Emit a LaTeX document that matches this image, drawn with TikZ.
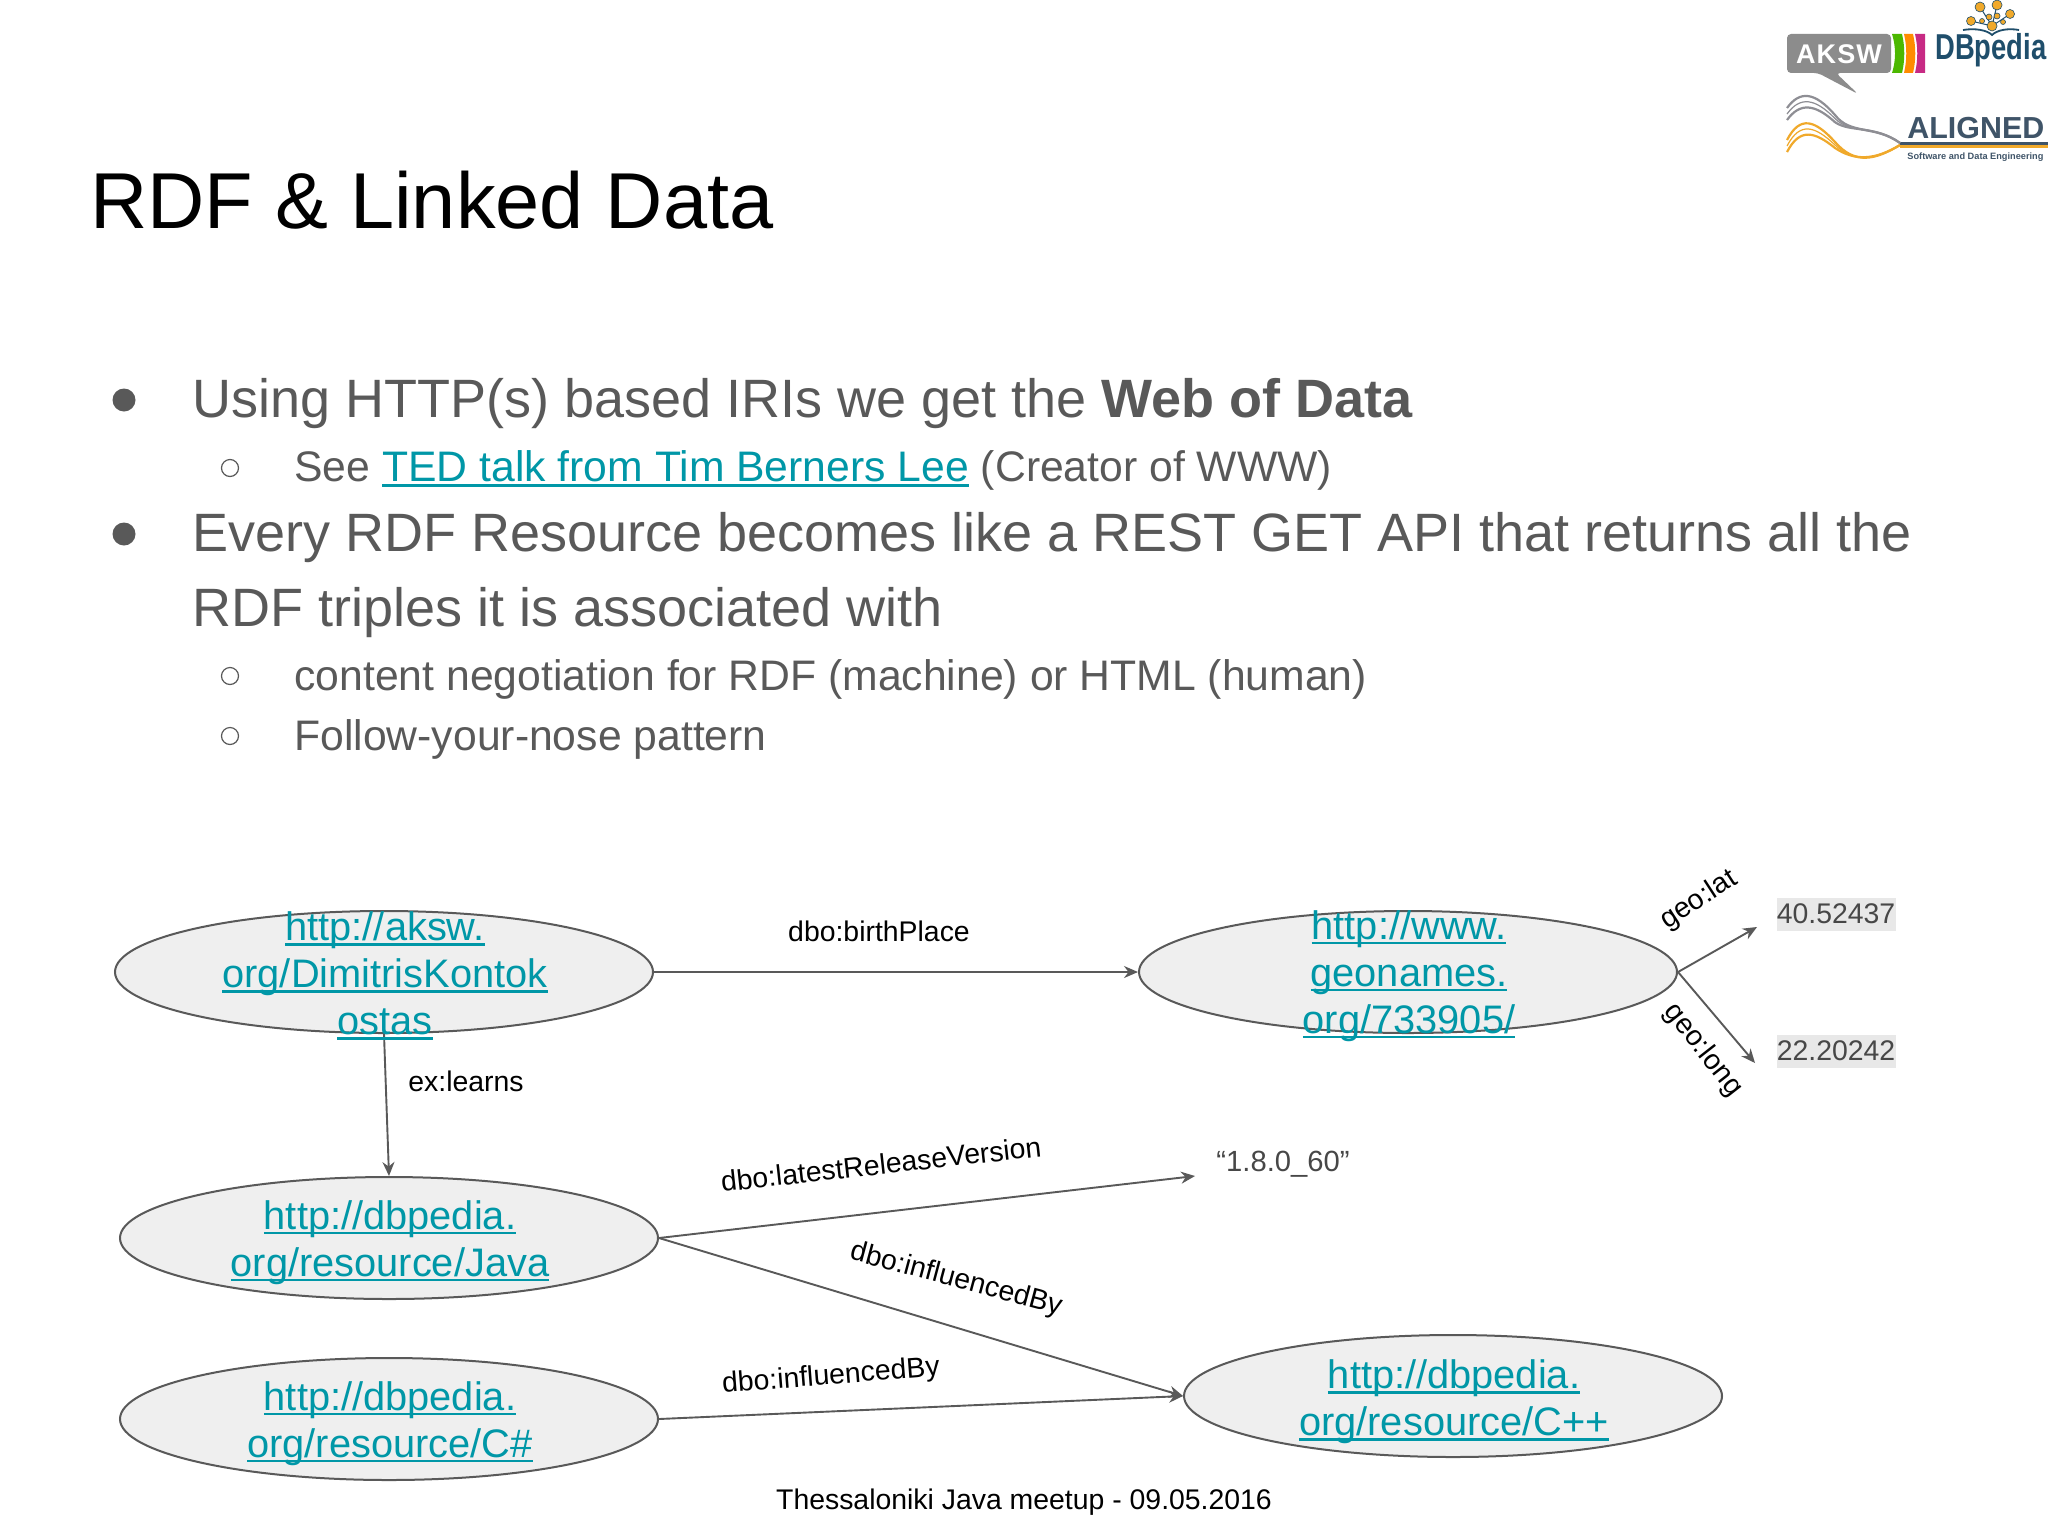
\documentclass[tikz,border=0pt]{standalone}
\usepackage{fontspec}
\setmainfont{Liberation Sans}
\usetikzlibrary{arrows.meta,shapes.geometric}
\definecolor{bodygray}{HTML}{595959}
\definecolor{linkteal}{HTML}{0097A7}
\definecolor{fillgray}{HTML}{EFEFEF}
\definecolor{valgray}{HTML}{E8E8E8}
\definecolor{edgegray}{HTML}{595959}
\definecolor{dbblue}{HTML}{1F4E6B}
\definecolor{dbgold}{HTML}{F0A92B}
\definecolor{akswgray}{HTML}{8C8C8C}
\definecolor{algblue}{HTML}{3F5468}
\definecolor{algorange}{HTML}{F0A92B}
\definecolor{alggray}{HTML}{8E8E94}
\newcommand{\lnkul}[1]{\setbox0\hbox{#1}\rlap{\copy0}\raisebox{-0.13em}{\rule{\wd0}{0.065em}}}
\tikzset{
  x=0.5pt,y=-0.5pt,
  res/.style={ellipse,draw=edgegray,line width=1pt,fill=fillgray,minimum width=269pt,minimum height=61pt,inner sep=0pt},
  restext/.style={text=linkteal,align=center,inner sep=0pt,font=\fontsize{19.9}{23.5}\selectfont},
  lab/.style={text=black,inner sep=0pt,font=\fontsize{14.2}{17}\selectfont},
  val/.style={fill=valgray,text=bodygray!80!black,inner sep=0pt,minimum width=59.5pt,minimum height=16.5pt,font=\fontsize{14.2}{17}\selectfont},
  lit/.style={text=bodygray!80!black,inner sep=0pt,font=\fontsize{14.6}{17}\selectfont},
  rel/.style={draw=edgegray,line width=0.95pt,-{Stealth[length=7pt,width=6pt]}},
  big/.style={anchor=base west,text=bodygray,inner sep=0pt,font=\fontsize{27}{32}\selectfont},
  small/.style={anchor=base west,text=bodygray,inner sep=0pt,font=\fontsize{21.35}{26}\selectfont},
  bul/.style={circle,fill=bodygray,inner sep=0pt,minimum size=11.5pt},
  subbul/.style={circle,draw=bodygray,line width=0.6pt,inner sep=0pt,minimum size=8.5pt},
  dot/.style={circle,fill=dbgold,draw=dbblue,line width=0.3pt,inner sep=0pt},
}
\begin{document}
\begin{tikzpicture}
\useasboundingbox (0,0) rectangle (2048,1536);
\fill[white] (0,0) rectangle (2048,1536);

% title and body
\node[anchor=base west,inner sep=0pt,font=\fontsize{39.65}{46}\selectfont] (title) at (90,228) {RDF \& Linked Data};
\node[bul] (b1) at (124,400) {};
\node[big] (t1) at (192,417.5) {Using HTTP(s) based IRIs we get the \textbf{Web of Data}};
\node[subbul] (b2) at (230,468) {};
\node[small] (t2) at (294,481) {See \textcolor{linkteal}{\lnkul{TED talk from Tim Berners Lee}} (Creator of WWW)};
\node[bul] (b3) at (124,534) {};
\node[big] (t3) at (192,551) {Every RDF Resource becomes like a REST GET API that returns all the};
\node[big] (t4) at (192,626) {RDF triples it is associated with};
\node[subbul] (b4) at (230,676) {};
\node[small] (t5) at (294,690) {content negotiation for RDF (machine) or HTML (human)};
\node[subbul] (b5) at (230,736) {};
\node[small] (t6) at (294,750) {Follow-your-nose pattern};

% graph
\node[res] (dk) at (384,972) {};
\node[res] (geo) at (1408,972) {};
\node[res] (java) at (389,1238) {};
\node[res] (cs) at (389,1419) {};
\node[res] (cpp) at (1453,1396) {};
\node[val] (lat) at (1836,914) {40.52437};
\node[val] (long) at (1836,1051) {22.20242};
\node[lit] (ver) at (1283,1164) {“1.8.0\_60”};
\coordinate (lattip) at (1757,927);
\coordinate (longtip) at (1755,1063);
\coordinate (vertip) at (1195,1176);

\draw[rel] (dk.east) -- (geo.west);
\draw[rel] (dk.south) -- (java.north);
\draw[rel] (java.east) -- (vertip);
\draw[rel] (java.east) -- (cpp.west);
\draw[rel] (cs.east) -- (cpp.west);
\draw[rel] (geo.east) -- (lattip);
\draw[rel] (geo.east) -- (longtip);

\node[restext] (dkt) at (385,976) {\lnkul{http://aksw.}\\\lnkul{org/DimitrisKontok}\\\lnkul{ostas}};
\node[restext] (geot) at (1409,976) {\lnkul{http://www.}\\\lnkul{geonames.}\\\lnkul{org/733905/}};
\node[restext] (javat) at (390,1242.5) {\lnkul{http://dbpedia.}\\\lnkul{org/resource/Java}};
\node[restext] (cst) at (390,1423.5) {\lnkul{http://dbpedia.}\\\lnkul{org/resource/C\#}};
\node[restext] (cppt) at (1454,1402) {\lnkul{http://dbpedia.}\\\lnkul{org/resource/C++}};

\node[lab] (l1) at (879,931) {dbo:birthPlace};
\node[lab] (l2) at (466,1081) {ex:learns};
\node[lab,rotate=6.3] (l3) at (881,1164) {dbo:latestReleaseVersion};
\node[lab,rotate=-15] (l4) at (956,1280) {dbo:influencedBy};
\node[lab,rotate=4.5] (l5) at (831,1377) {dbo:influencedBy};
\node[lab,rotate=33] (l6) at (1699,900) {geo:lat};
\node[lab,rotate=-52] (l7) at (1703,1050) {geo:long};
\node[lab] (foot) at (1024,1502) {Thessaloniki Java meetup - 09.05.2016};

% AKSW logo
\fill[akswgray,rounded corners=2pt] (1787,34) -- (1891,34) -- (1891,73) -- (1836,73) -- (1858,94) -- (1818,73) -- (1787,73) -- cycle;
\node[text=white,inner sep=0pt,font=\fontsize{13.5}{15}\selectfont\bfseries] (aksw) at (1839,54) {\addfontfeature{LetterSpace=4}AKSW};
\fill[green!60!black!70!yellow] (1892,34) -- (1902,34) .. controls (1905,47) and (1905,60) .. (1902,73) -- (1892,73) .. controls (1896,60) and (1896,47) .. (1892,34) -- cycle;
\fill[orange!90!yellow] (1904,34) -- (1913,34) .. controls (1916,47) and (1916,60) .. (1913,73) -- (1904,73) .. controls (1907,60) and (1907,47) .. (1904,34) -- cycle;
\fill[magenta!80!black] (1915,34) -- (1925,34) -- (1925,73) -- (1915,73) .. controls (1918,60) and (1918,47) .. (1915,34) -- cycle;

% DBpedia logo
\node[anchor=base west,text=dbblue,inner sep=0pt,font=\fontsize{18}{20}\selectfont\bfseries] (dbp) at (1935,60) {\scalebox{0.76}[1]{DBpedia}};
\draw[dbblue,line width=0.9pt] (1963,30) .. controls (1975,28) and (1987,30) .. (1992,35) .. controls (1997,30) and (2008,28) .. (2019,30);
\draw[dbblue,line width=0.5pt] (1992,26) -- (1980,7) (1992,26) -- (1997,5) (1992,26) -- (2010,14) (1992,26) -- (1971,21);
\foreach \px/\py/\pr in {1980/7/5,1997/5/5,2010/14/4.5,1971/21/4.5,1992/26/5,1989/17/3,1997/16/3,1982/21/2.5,2003/22/2.5}
  \node[dot,minimum size=\pr pt] at (\px,\py) {};

% ALIGNED logo
\node[anchor=base west,text=algblue,inner sep=0pt,font=\fontsize{15.2}{18}\selectfont\bfseries] (alg) at (1907,138) {ALIGNED};
\fill[algblue] (1900,142) rectangle (2048,145);
\fill[algorange] (1900,145) rectangle (2048,148);
\node[anchor=base west,text=algblue,inner sep=0pt,font=\fontsize{4.6}{6}\selectfont\bfseries] (algs) at (1907,159) {Software and Data Engineering};
\foreach \dy/\lw in {0/1.1,6/0.6,12/1.1}{
  \draw[alggray,line width=\lw pt] (1787,{108+\dy}) .. controls (1800,{90+\dy}) and (1815,{92+\dy}) .. (1835,{115+\dy*0.6}) .. controls (1850,{135-\dy*0.2}) and (1875,{125}) .. (1900,143);
  \draw[algorange,line width=\lw pt] (1787,{140+\dy}) .. controls (1800,{115+\dy}) and (1815,{120+\dy}) .. (1835,{142+\dy*0.5}) .. controls (1855,{165-\dy*0.3}) and (1875,{160}) .. (1900,145);
}
\end{tikzpicture}
\end{document}
